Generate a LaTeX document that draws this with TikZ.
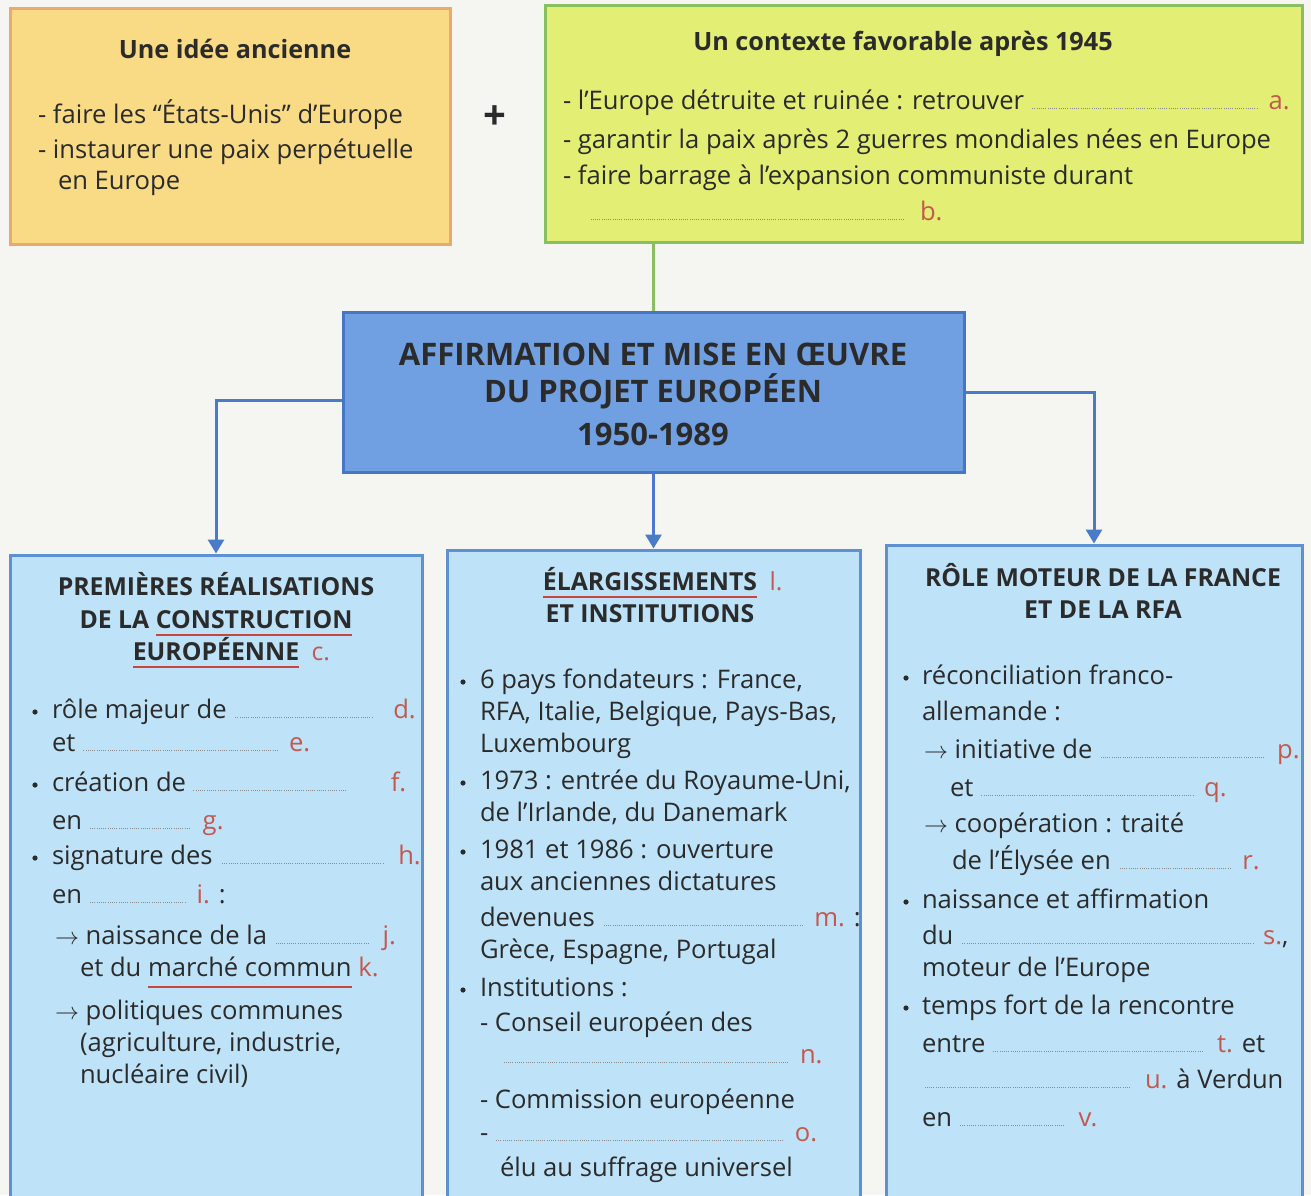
\documentclass[tikz,border=0pt]{standalone}
\usepackage{fontspec}
\setmainfont{Open Sans}
\usetikzlibrary{arrows.meta}
\definecolor{bg}{HTML}{F5F5F2}
\definecolor{ink}{HTML}{2B2B2B}
\definecolor{yfill}{HTML}{F8DB84}
\definecolor{ydraw}{HTML}{EBA970}
\definecolor{gfill}{HTML}{E3EE74}
\definecolor{gdraw}{HTML}{88C060}
\definecolor{cfill}{HTML}{70A0E2}
\definecolor{cdraw}{HTML}{4676C6}
\definecolor{bfill}{HTML}{BEE2F7}
\definecolor{bdraw}{HTML}{5E90D4}
\definecolor{redl}{HTML}{C4584E}
\definecolor{redu}{HTML}{C8453E}
\definecolor{arrc}{HTML}{4A7BC9}
\definecolor{dotc}{HTML}{8C8C8C}
\newcommand\fs{\fontsize{12.8}{15}\selectfont}
\newcommand\bl[1]{{\color{dotc}\leaders\hbox to 1.1pt{\hss\rule{0.45pt}{0.45pt}\hss}\hskip\dimexpr #1pt/2\relax}}
\newcommand\gp[1]{\hskip\dimexpr #1pt/2\relax}
\newcommand\lb[1]{{\color{redl}#1}}
\newcommand\redul[2][-4pt]{\setbox0\hbox{#2}\rlap{\color{redu}\rule[#1]{\wd0}{1.2pt}}\box0\relax}
\begin{document}
\begin{tikzpicture}[x=0.5pt,y=-0.5pt,
  txt/.style={anchor=base west, inner sep=0, outer sep=0, font=\fs, text=ink},
  ttl/.style={anchor=base, inner sep=0, outer sep=0, font=\fontsize{12.6}{15}\selectfont\bfseries, text=ink},
  captitle/.style={anchor=base, inner sep=0, outer sep=0, font=\fontsize{12.4}{15}\selectfont\bfseries, text=ink},
  big/.style={anchor=base, inner sep=0, outer sep=0, font=\fontsize{15.5}{18}\selectfont\bfseries, text=ink},
  ybox/.style={draw=ydraw, fill=yfill, line width=1.5pt, inner sep=0},
  gbox/.style={draw=gdraw, fill=gfill, line width=1.5pt, inner sep=0},
  cbox/.style={draw=cdraw, fill=cfill, line width=1.5pt, inner sep=0},
  bbox/.style={draw=bdraw, fill=bfill, line width=1.5pt, inner sep=0},
  arr/.style={draw=arrc, line width=1.5pt, -{Triangle[width=8pt,length=7pt]}},
  bul/.style={fill=ink}]
\useasboundingbox (0,0) rectangle (1311,1195);
\clip (0,0) rectangle (1311,1195);
\fill[bg] (0,0) rectangle (1311,1195);

% boxes
\node[ybox, minimum width=220pt, minimum height=118pt] (b1) at (230,126) {};
\node[gbox, minimum width=378.5pt, minimum height=118.5pt] (b2) at (923.5,123.5) {};
\node[cbox, minimum width=310.5pt, minimum height=80pt] (cen) at (653.5,392) {};
\node[bbox, minimum width=206pt, minimum height=330pt] (lb) at (216,885) {};
\node[bbox, minimum width=206.5pt, minimum height=332.5pt] (mb) at (653.5,882.5) {};
\node[bbox, minimum width=208pt, minimum height=335pt] (rb) at (1094,880) {};

% connectors
\draw[draw=gdraw, line width=1.5pt] (cen.north |- b2.south) -- (cen.north);
\draw[arr] ([yshift=-4pt]cen.west) -| (lb.north);
\draw[arr] (cen.south) -- (mb.north);
\draw[arr] (cen.east) -| (rb.north);

\node[font=\fontsize{20}{20}\selectfont\bfseries, text=ink, inner sep=0] (plus) at (495,118) {+};

% box 1
\node[ttl] (t1) at (235,58) {Une idée ancienne};
\node[txt] (t1a) at (38,123) {- faire les “États-Unis” d’Europe};
\node[txt] (t1b) at (38,158) {- instaurer une paix perpétuelle};
\node[txt] (t1c) at (58,189) {en Europe};

% box 2
\node[ttl] (t2) at (903,50) {Un contexte favorable après 1945};
\node[txt] (t2a) at (563,109) {- l’Europe détruite et ruinée : retrouver \bl{228}\gp{10}\lb{a.}};
\node[txt] (t2b) at (563,148) {- garantir la paix après 2 guerres mondiales nées en Europe};
\node[txt] (t2c) at (563,184) {- faire barrage à l’expansion communiste durant};
\node[txt] (t2d) at (590,220) {\bl{315}\gp{15}\lb{b.}};

% central
\node[big] (c1) at (653,365) {AFFIRMATION ET MISE EN ŒUVRE};
\node[big] (c2) at (653,402) {DU PROJET EUROPÉEN};
\node[big] (c3) at (653,445) {1950-1989};

% left box
\node[captitle] (l1) at (216,595) {PREMIÈRES RÉALISATIONS};
\node[captitle] (l2) at (216,628) {DE LA \redul{CONSTRUCTION}};
\node[captitle] (l3) at (216,660) {\redul{EUROPÉENNE}\rlap{\enskip\mdseries\lb{c.}}};
\fill[bul] (35,712) circle (2.6);
\node[txt] (l4) at (52,718) {rôle majeur de \bl{140}\gp{20}\lb{d.}};
\node[txt] (l5) at (52,751) {et \bl{197}\gp{10}\lb{e.}};
\fill[bul] (35,785) circle (2.6);
\node[txt] (l6) at (52,791) {création de \bl{156}\gp{42}\lb{f.}};
\node[txt] (l7) at (52,829) {en \bl{102}\gp{12}\lb{g.}};
\fill[bul] (35,858) circle (2.6);
\node[txt] (l8) at (52,864) {signature des \bl{166}\gp{13}\lb{h.}};
\node[txt] (l9) at (52,903) {en \bl{99}\gp{9}\lb{i.} :};
\node[txt] (l10) at (55,944) {$\rightarrow$ naissance de la \bl{96}\gp{13}\lb{j.}};
\node[txt] (l11) at (80,976) {et du \redul[-6pt]{marché commun} \lb{k.}};
\node[txt] (l12) at (55,1019) {$\rightarrow$ politiques communes};
\node[txt] (l13) at (80,1051) {(agriculture, industrie,};
\node[txt] (l14) at (80,1083) {nucléaire civil)};

% middle box
\node[captitle] (m1) at (650,590) {\redul{ÉLARGISSEMENTS}\rlap{\enskip\mdseries\lb{l.}}};
\node[captitle] (m2) at (650,622) {ET INSTITUTIONS};
\fill[bul] (463,682) circle (2.6);
\node[txt] (m3) at (480,688) {6 pays fondateurs : France,};
\node[txt] (m4) at (480,720) {RFA, Italie, Belgique, Pays-Bas,};
\node[txt] (m5) at (480,752) {Luxembourg};
\fill[bul] (463,783) circle (2.6);
\node[txt] (m6) at (480,789) {1973 : entrée du Royaume-Uni,};
\node[txt] (m7) at (480,821) {de l’Irlande, du Danemark};
\fill[bul] (463,852) circle (2.6);
\node[txt] (m8) at (480,858) {1981 et 1986 : ouverture};
\node[txt] (m9) at (480,890) {aux anciennes dictatures};
\node[txt] (m10) at (480,926) {devenues \bl{203}\gp{10}\lb{m.} :};
\node[txt] (m11) at (480,958) {Grèce, Espagne, Portugal};
\fill[bul] (463,990) circle (2.6);
\node[txt] (m12) at (480,996) {Institutions :};
\node[txt] (m13) at (480,1031) {- Conseil européen des};
\node[txt] (m14) at (503,1063) {\bl{287}\gp{10}\lb{n.}};
\node[txt] (m15) at (480,1108) {- Commission européenne};
\node[txt] (m16) at (480,1141) {- \bl{290}\gp{10}\lb{o.}};
\node[txt] (m17) at (500,1176) {élu au suffrage universel};

% right box
\node[captitle] (r1) at (1103,586) {RÔLE MOTEUR DE LA FRANCE};
\node[captitle] (r2) at (1103,618) {ET DE LA RFA};
\fill[bul] (906,678) circle (2.6);
\node[txt] (r3) at (922,684) {réconciliation franco-};
\node[txt] (r4) at (922,720) {allemande :};
\node[txt] (r5) at (924,758) {$\rightarrow$ initiative de \bl{168}\gp{10}\lb{p.}};
\node[txt] (r6) at (950,796) {et \bl{216}\gp{8}\lb{q.}};
\node[txt] (r7) at (924,832) {$\rightarrow$ coopération : traité};
\node[txt] (r8) at (952,869) {de l’Élysée en \bl{115}\gp{10}\lb{r.}};
\fill[bul] (906,902) circle (2.6);
\node[txt] (r9) at (922,908) {naissance et affirmation};
\node[txt] (r10) at (922,944) {du \bl{296}\gp{7}\lb{s.},};
\node[txt] (r11) at (922,976) {moteur de l’Europe};
\fill[bul] (906,1008) circle (2.6);
\node[txt] (r12) at (922,1014) {temps fort de la rencontre};
\node[txt] (r13) at (922,1052) {entre \bl{213}\gp{12}\lb{t.} et};
\node[txt] (r14) at (924,1088) {\bl{207}\gp{14}\lb{u.} à Verdun};
\node[txt] (r15) at (922,1126) {en \bl{108}\gp{12}\lb{v.}};
\end{tikzpicture}
\end{document}
